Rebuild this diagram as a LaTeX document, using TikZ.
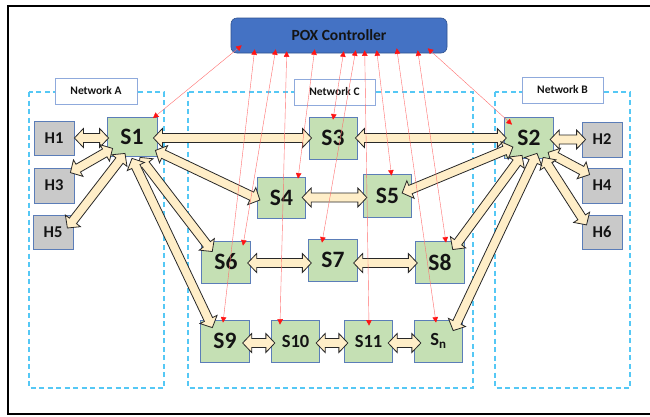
\documentclass[tikz,border=0pt]{standalone}
\usepackage{fontspec}
\setmainfont{Carlito}
\usetikzlibrary{arrows.meta,calc}
\definecolor{swfill}{RGB}{197,224,180}
\definecolor{boxline}{RGB}{91,125,184}
\definecolor{hostfill}{RGB}{201,201,201}
\definecolor{ctrlfill}{RGB}{68,114,196}
\definecolor{ctrlline}{RGB}{47,82,143}
\definecolor{cream}{RGB}{255,238,200}
\definecolor{fatline}{RGB}{40,40,40}
\definecolor{netdash}{RGB}{85,200,245}
\definecolor{netlbl}{RGB}{143,170,220}
\definecolor{ctlred}{RGB}{255,20,20}
\definecolor{ctlpink}{RGB}{255,110,110}
\definecolor{txt}{RGB}{20,20,20}
\newcommand\fatarrow[2]{%
  \path let \p1=#1, \p2=#2, \n1={atan2(\y2-\y1,\x2-\x1)}, \n2={veclen(\x2-\x1,\y2-\y1)} in
    \pgfextra{\xdef\faang{\n1}\xdef\falen{\n2}\xdef\fax{\x1}\xdef\fay{\y1}};
  \path[fat, shift={(\fax,\fay)}, rotate=\faang]
    (0,0) -- (9,9.5) -- (9,4.5) -- ({\falen-9},4.5) -- ({\falen-9},9.5) -- (\falen,0)
    -- ({\falen-9},-9.5) -- ({\falen-9},-4.5) -- (9,-4.5) -- (9,-9.5) -- cycle;
}
\tikzset{
  sw/.style={draw=boxline, fill=swfill, line width=0.8pt, minimum width=48.5pt,
    minimum height=42pt, inner sep=0pt, text=txt, font=\bfseries\fontsize{23.5}{23.5}\selectfont},
  smallsw/.style={font=\bfseries\fontsize{18.5}{18.5}\selectfont},
  host/.style={draw=boxline, fill=hostfill, line width=0.8pt, minimum width=40pt,
    minimum height=34pt, inner sep=0pt, text=txt, font=\bfseries\fontsize{16.5}{16.5}\selectfont},
  netlabel/.style={draw=netlbl, fill=white, line width=0.8pt, minimum width=81pt,
    minimum height=26pt, inner sep=0pt, text=txt, font=\bfseries\fontsize{11.5}{12}\selectfont},
  netzone/.style={draw=netdash, line width=1.3pt, dash pattern=on 5pt off 3.5pt},
  ctrlbox/.style={draw=ctrlline, fill=ctrlfill, line width=0.6pt, rounded corners=6pt,
    minimum width=216pt, minimum height=35pt, inner sep=0pt, text=txt,
    font=\bfseries\fontsize{15.5}{16}\selectfont},
  fat/.style={draw=fatline, fill=cream, line width=0.8pt, line join=miter},
  ctl/.style={draw=ctlpink, line width=0.4pt,
    {Triangle[length=5.5pt,width=5.5pt,color=ctlred]}-{Triangle[length=5.5pt,width=5.5pt,color=ctlred]}},
  frame/.style={draw=black, line width=2pt}
}
\begin{document}
\begin{tikzpicture}[x=1pt,y=-1pt]
\useasboundingbox (0,0) rectangle (650,416);
\fill[white] (0,0) rectangle (650,416);
\draw[frame] (660,6) -- (8,6) -- (8,414) -- (660,414);

% network zones
\draw[netzone] (29,92) rectangle (164,388);
\draw[netzone] (188,92) rectangle (473,388);
\draw[netzone] (495,92) rectangle (630,388);
\node[netlabel, minimum width=82pt] (NA) at (96,91) {Network A};
\node[netlabel] (NC) at (334.5,92) {Network C};
\node[netlabel] (NB) at (562.5,90) {Network B};

% controller
\node[ctrlbox] (ctrl) at (339,35.5) {POX Controller};

% hosts
\node[host] (H1) at (54,138) {H1};
\node[host, minimum height=35pt] (H3) at (54,185.5) {H3};
\node[host] (H5) at (53,232) {H5};
\node[host, minimum height=35pt] (H2) at (602,139.5) {H2};
\node[host, minimum height=35pt] (H4) at (602,185.5) {H4};
\node[host] (H6) at (602,232) {H6};

% switches
\node[sw, minimum width=50pt, minimum height=39pt] (S1) at (132,137) {S1};
\node[sw, minimum width=48pt] (S3) at (333,138) {S3};
\node[sw, minimum height=41pt] (S4) at (281.5,197.5) {S4};
\node[sw, minimum height=43pt] (S5) at (387.5,195.5) {S5};
\node[sw] (S6) at (226,262) {S6};
\node[sw] (S7) at (333,260) {S7};
\node[sw] (S8) at (440,262) {S8};
\node[sw] (S9) at (225,341) {S9};
\node[sw, smallsw] (S10) at (295.5,341) {S10};
\node[sw, smallsw] (S11) at (368.5,341) {S11};
\node[sw, smallsw] (Sn) at (438.5,341) {S\textsubscript{n}};
\node[sw, minimum height=41pt] (S2) at (529,137.5) {S2};

% fat double arrows
\fatarrow{(H1.east)}{($(H1.east -| S1.west)+(2,0)$)}
\fatarrow{($(H3.north east)+(-4,5)$)}{($(S1.south west)+(6,-8.5)$)}
\fatarrow{($(H5.east)+(-6,-4)$)}{($(S1.south)+(-7,-3.5)$)}
\fatarrow{($(S3.west -| S1.east)+(-4,0)$)}{($(S3.west)+(3,0)$)}
\fatarrow{($(S1.south east)+(-2,-6.5)$)}{($(S4.west)+(3,2.5)$)}
\fatarrow{($(S1.south)+(8,0.5)$)}{($(S6.north west)+(11,11)$)}
\fatarrow{($(S1.south)+(0,1.5)$)}{($(S9.north west)+(12,8)$)}
\fatarrow{($(S4.east)+(-4,0)$)}{($(S4.east -| S5.west)+(4,0)$)}
\fatarrow{($(S6.east)+(-3,1)$)}{($(S6.east -| S7.west)+(3,1)$)}
\fatarrow{($(S8.west -| S7.east)+(-4,1)$)}{($(S8.west)+(2,1)$)}
\fatarrow{($(S9.east)+(-7,2)$)}{($(S10.west)+(4,2)$)}
\fatarrow{($(S10.east)+(-4,2)$)}{($(S11.west)+(4,2)$)}
\fatarrow{($(S11.east)+(-5,2)$)}{($(Sn.west)+(7,2)$)}
\fatarrow{($(S3.east)+(-2,0)$)}{($(S3.east -| S2.west)+(2,0)$)}
\fatarrow{($(H2.west -| S2.east)+(-3.5,0)$)}{($(H2.west)+(4,0)$)}
\fatarrow{($(S2.south east)+(-5.5,-6)$)}{($(H4.north west)+(8,7)$)}
\fatarrow{($(S2.south east)+(-10.5,-1)$)}{($(H6.west)+(5,-7)$)}
\fatarrow{($(S2.west)+(8.5,9.5)$)}{($(S5.east)+(-10,-2.5)$)}
\fatarrow{($(S2.south)+(-7,-3)$)}{($(S8.north east)+(-12,9)$)}
\fatarrow{($(S2.south)+(8,-5)$)}{($(Sn.north east)+(-10,11)$)}

% controller attachment points
\coordinate (cS1) at ($(ctrl.south west)+(11,-8)$);
\coordinate (cS9) at ($(ctrl.south west)+(24,-4)$);
\coordinate (cS6) at ($(ctrl.south west)+(45,-4)$);
\coordinate (cS10) at ($(ctrl.south west)+(56,-2)$);
\coordinate (cS4) at ($(ctrl.south west)+(84,-4)$);
\coordinate (cS3) at ($(ctrl.south west)+(113,-2)$);
\coordinate (cS7) at ($(ctrl.south west)+(125,-3)$);
\coordinate (cS11) at ($(ctrl.south west)+(134,-3)$);
\coordinate (cS5) at ($(ctrl.south west)+(146,-3)$);
\coordinate (cSn) at ($(ctrl.south west)+(166,-5)$);
\coordinate (cS8) at ($(ctrl.south west)+(187,-3)$);
\coordinate (cS2) at ($(ctrl.south west)+(197,-5)$);

% control links
\draw[ctl] (cS1) -- ($(S1.north)+(21,1)$);
\draw[ctl] (cS9) -- ($(S9.north)+(-2,3)$);
\draw[ctl] (cS6) -- ($(S6.north)+(17,5)$);
\draw[ctl] (cS10) -- ($(S10.north)+(-15.5,5)$);
\draw[ctl] (cS4) -- ($(S4.north)+(16.5,2)$);
\draw[ctl] (cS3) -- ($(S3.north)+(0,3)$);
\draw[ctl] (cS7) -- ($(S7.north)+(-11,4)$);
\draw[ctl] (cS11) -- ($(S11.north)+(0.5,6)$);
\draw[ctl] (cS5) -- ($(S5.north)+(4,2)$);
\draw[ctl] (cSn) -- ($(Sn.north)+(-2.5,3)$);
\draw[ctl] (cS8) -- ($(S8.north)+(6,2)$);
\draw[ctl] (cS2) -- ($(S2.north)+(-17,8)$);
\end{tikzpicture}
\end{document}
